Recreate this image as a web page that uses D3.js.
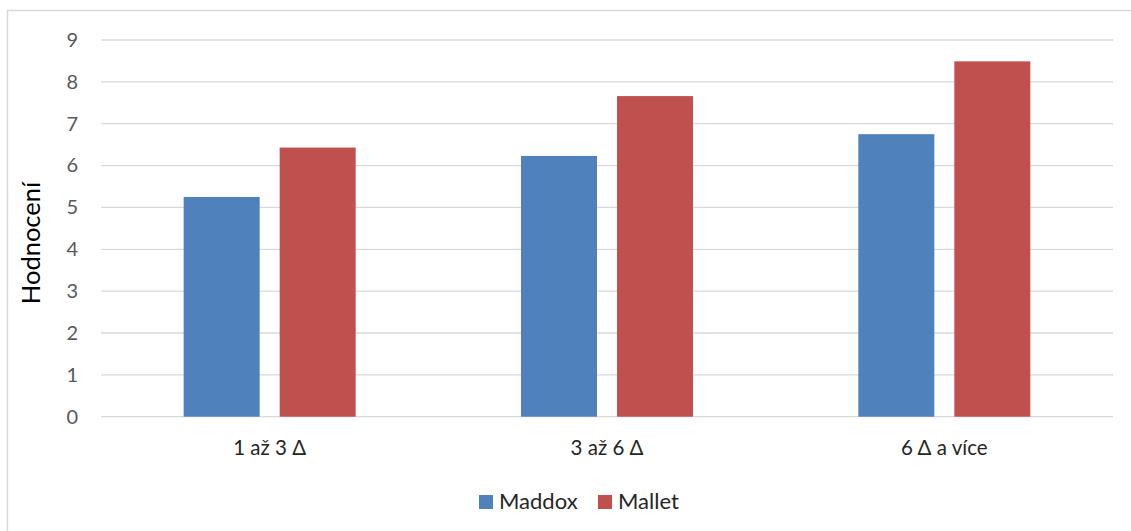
<!DOCTYPE html>
<html>
<head>
<meta charset="utf-8">
<script src="https://cdn.jsdelivr.net/npm/d3@7"></script>
<style>
  html, body { margin: 0; padding: 0; background: #fff; }
  svg { display: block; }
  text { font-family: Lato, "Open Sans", sans-serif; }
</style>
</head>
<body>
<svg id="chart" width="1131" height="531"></svg>
<script>
// Ratings by number of sessions
const categories = ["1 až 3 Δ", "3 až 6 Δ", "6 Δ a více"];
const seriesNames = ["Maddox", "Mallet"];
const maddox = [5.25, 6.23, 6.75];
const mallet = [6.43, 7.66, 8.49];
const yTicks = [0, 1, 2, 3, 4, 5, 6, 7, 8, 9];
const colors = ["#4f81bd", "#c0504d"];

const values = [maddox, mallet];

const svg = d3.select("#chart");
const plot = { left: 101, right: 1113, top: 40, bottom: 416.7 };

// chart frame
svg.append("rect")
  .attr("x", 7.5).attr("y", 10.5)
  .attr("width", 1200).attr("height", 600)
  .attr("fill", "none")
  .attr("stroke", "#d9d9d9")
  .attr("stroke-width", 1.5);

const y = d3.scaleLinear().domain([0, 9]).range([plot.bottom, plot.top]);
const x0 = d3.scaleBand().domain(categories).range([plot.left, plot.right]).padding(0);
const groupW = 172;
const x1 = d3.scaleBand().domain(seriesNames)
  .range([(x0.bandwidth() - groupW) / 2, (x0.bandwidth() + groupW) / 2])
  .paddingInner(0.2083).paddingOuter(0);

// gridlines
svg.append("g")
  .selectAll("line")
  .data(yTicks)
  .join("line")
  .attr("x1", plot.left).attr("x2", plot.right)
  .attr("y1", d => y(d)).attr("y2", d => y(d))
  .attr("stroke", "#d9d9d9")
  .attr("stroke-width", 1.3);

// y axis labels
const yAxis = d3.axisLeft(y).tickValues(yTicks).tickSize(0).tickPadding(0).tickFormat(d3.format("d"));
const gy = svg.append("g").attr("transform", `translate(78,0)`).call(yAxis);
gy.select(".domain").remove();
gy.selectAll("text")
  .attr("fill", "#595959")
  .style("font-size", "20px")
  .style("font-family", "Lato, 'Open Sans', sans-serif");

// bars
const groups = svg.append("g")
  .selectAll("g")
  .data(categories)
  .join("g")
  .attr("transform", d => `translate(${x0(d)},0)`);

groups.selectAll("rect")
  .data((d, i) => seriesNames.map((s, j) => ({ s, v: values[j][i], j })))
  .join("rect")
  .attr("x", d => x1(d.s))
  .attr("width", x1.bandwidth())
  .attr("y", d => y(d.v))
  .attr("height", d => y(0) - y(d.v))
  .attr("fill", d => colors[d.j]);

// x axis labels
const xAxis = d3.axisBottom(x0).tickSize(0).tickPadding(0);
const gx = svg.append("g").attr("transform", `translate(0,${plot.bottom})`).call(xAxis);
gx.select(".domain").remove();
gx.selectAll("text")
  .attr("dy", null)
  .attr("y", 38)
  .attr("fill", "#262626")
  .style("font-size", "20.5px")
  .style("font-family", "Lato, 'Open Sans', sans-serif");

// y axis title
svg.append("text")
  .attr("transform", "translate(39.5,243) rotate(-90)")
  .attr("text-anchor", "middle")
  .attr("fill", "#000")
  .style("font-size", "25.5px")
  .text("Hodnocení");

// legend
const legendX = [479, 598];
const legend = svg.append("g")
  .selectAll("g")
  .data(seriesNames)
  .join("g")
  .attr("transform", (d, i) => `translate(${legendX[i]},495)`);
legend.append("rect")
  .attr("width", 14).attr("height", 14)
  .attr("fill", (d, i) => colors[i]);
legend.append("text")
  .attr("x", 20).attr("y", 13.5)
  .attr("fill", "#262626")
  .style("font-size", "22px")
  .text(d => d);
</script>
</body>
</html>
